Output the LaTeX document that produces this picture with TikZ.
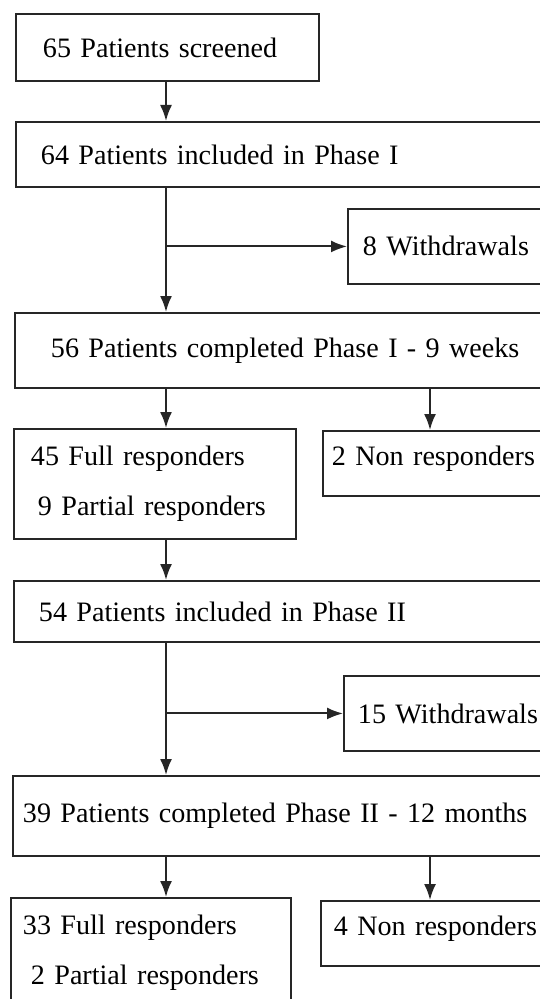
\documentclass[tikz,border=0pt]{standalone}
\usepackage{fontspec}
\setmainfont{Liberation Serif}
\usetikzlibrary{positioning, arrows.meta}

\begin{document}
\begin{tikzpicture}[x=0.02cm, y=-0.02cm]
\tikzstyle{box}=[rectangle, draw=black!85, line width=1.1pt, anchor=north west, align=left, inner ysep=0pt, font=\fontsize{16}{28.5}\selectfont]
\tikzstyle{connect}=[-{Latex[length=3.2mm, width=2.4mm]}, line width=1.1pt, draw=black!85]
\useasboundingbox (0,0) rectangle (540,999);
    % columns of the down arrows
    \coordinate (colA) at (166,0);
    \coordinate (colB) at (430,0);
    % phase I
    \node[box, text width=4.98cm, inner xsep=0.54cm, minimum height=1.34cm] (scr) at (15,13) {65 Patients screened};
    \node[box, text width=10.3cm, inner xsep=0.5cm, minimum height=1.3cm] (inc1) at (15,121) {64 Patients included in Phase I};
    \node[box, text width=4.46cm, inner xsep=0.3cm, minimum height=1.5cm] (wd1) at (347,208) {8 Withdrawals};
    \node[box, text width=9.9cm, inner xsep=0.72cm, minimum height=1.5cm] (comp1) at (14,312) {56 Patients completed Phase I - 9 weeks};
    \node[box, text width=4.96cm, inner xsep=0.34cm, minimum height=2.2cm] (resp1) at (13,428) {45 Full responders\\\hspace{0.14cm}9 Partial responders};
    \node[box, text width=5.2cm, inner xsep=0.18cm, minimum height=1.3cm, text depth=0.32cm] (non1) at (322,430) {2 Non responders};
    % phase II
    \node[box, text width=10.3cm, inner xsep=0.5cm, minimum height=1.22cm] (inc2) at (13,580) {54 Patients included in Phase II};
    \node[box, text width=4.6cm, inner xsep=0.28cm, minimum height=1.5cm] (wd2) at (343,675) {15 Withdrawals};
    \node[box, text width=11cm, inner xsep=0.2cm, minimum height=1.6cm] (comp2) at (12,775) {39 Patients completed Phase II - 12 months};
    \node[box, text width=5.12cm, inner xsep=0.24cm, minimum height=2.2cm] (resp2) at (10,897) {33 Full responders\\\hspace{0.16cm}2 Partial responders};
    \node[box, text width=5.08cm, inner xsep=0.26cm, minimum height=1.3cm, text depth=0.32cm] (non2) at (320,900) {4 Non responders};

    \draw[connect] (scr.south -| colA) -- (inc1.north -| colA);
    \draw[connect] (inc1.south -| colA) -- (comp1.north -| colA);
    \draw[connect] (wd1.west -| colA) -- (wd1.west);
    \draw[connect] (comp1.south -| colA) -- (resp1.north -| colA);
    \draw[connect] (comp1.south -| colB) -- (non1.north -| colB);
    \draw[connect] (resp1.south -| colA) -- (inc2.north -| colA);
    \draw[connect] (inc2.south -| colA) -- (comp2.north -| colA);
    \draw[connect] (wd2.west -| colA) -- (wd2.west);
    \draw[connect] (comp2.south -| colA) -- (resp2.north -| colA);
    \draw[connect] (comp2.south -| colB) -- (non2.north -| colB);
\end{tikzpicture}
\end{document}
